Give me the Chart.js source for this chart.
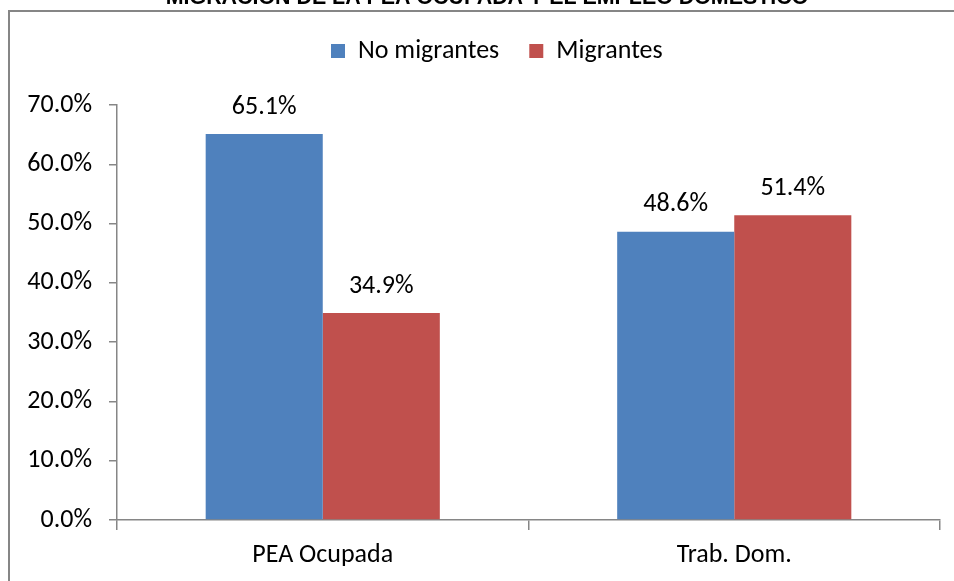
<!DOCTYPE html>
<html><head><meta charset="utf-8">
<script src="https://cdn.jsdelivr.net/npm/chart.js@4"></script>
<style>
html,body{margin:0;padding:0;background:#fff;overflow:hidden;width:954px;height:581px;}
#frame{position:absolute;left:8px;top:10px;width:1000px;height:1000px;border-left:2px solid #868686;border-top:2px solid #868686;}
canvas{position:absolute;left:0;top:0;}
</style></head><body>
<div id="frame"></div>
<canvas id="c" width="954" height="581"></canvas>
<script>
const chartTitle = 'MIGRACIÓN DE LA PEA OCUPADA Y EL EMPLEO DOMÉSTICO';
const categories = ['PEA Ocupada', 'Trab. Dom.'];
const seriesNames = ['No migrantes', 'Migrantes'];
const noMigrantes = [65.1, 48.6];
const migrantes = [34.9, 51.4];
const yMin = 0, yMax = 70, yStep = 10;

const FONT = 'Carlito, Calibri, Lato, sans-serif';
const FS = 26;
const AXIS = '#868686';
const TOP_PAD = 8;

const layoutPlugin = {
  id: 'layoutTweaks',
  beforeLayout(chart) {
    const lg = chart.legend;
    if (lg && !lg._patched) {
      const orig = lg.fit;
      lg.fit = function () { orig.call(this); this.height = 105 - TOP_PAD; };
      lg._patched = true;
    }
  },
  afterLayout(chart) {
    const lg = chart.legend;
    if (!lg || !lg.lineWidths) return;
    const p = lg.options.labels.padding;
    const x0 = ((lg.left + p) + (lg.right - lg.lineWidths[0])) / 2;
    const dx = 331 - x0;
    lg.left += dx; lg.right += dx;
  },
  afterDraw(chart) {
    const ctx = chart.ctx;
    ctx.save();
    ctx.font = 'bold 21.4px "Liberation Sans", Arial, sans-serif';
    ctx.fillStyle = '#000';
    ctx.textAlign = 'center';
    ctx.textBaseline = 'alphabetic';
    ctx.fillText(chartTitle, 487, 4);
    ctx.restore();
  },
  afterDatasetsDraw(chart) {
    const ctx = chart.ctx;
    ctx.save();
    ctx.font = FS + 'px ' + FONT;
    ctx.fillStyle = '#000';
    ctx.textAlign = 'center';
    ctx.textBaseline = 'middle';
    chart.data.datasets.forEach((ds, i) => {
      chart.getDatasetMeta(i).data.forEach((el, j) => {
        ctx.fillText(ds.data[j].toFixed(1) + '%', el.x, el.y - 27);
      });
    });
    ctx.restore();
  }
};

new Chart(document.getElementById('c'), {
  type: 'bar',
  data: {
    labels: categories,
    datasets: [
      { label: seriesNames[0], data: noMigrantes, backgroundColor: '#4F81BD', borderWidth: 0 },
      { label: seriesNames[1], data: migrantes, backgroundColor: '#C0504D', borderWidth: 0 }
    ]
  },
  options: {
    responsive: false,
    animation: false,
    events: [],
    layout: { padding: { left: 0, right: 14, top: TOP_PAD, bottom: 0 } },
    categoryPercentage: 0.569,
    barPercentage: 1.0,
    plugins: {
      title: { display: false },
      tooltip: { enabled: false },
      legend: {
        position: 'top',
        labels: {
          boxWidth: 14, boxHeight: 14, padding: 30,
          color: '#000',
          font: { family: FONT, size: FS }
        }
      }
    },
    scales: {
      x: {
        offset: true,
        grid: { display: true, drawOnChartArea: false, offset: true, tickLength: 10, color: AXIS, lineWidth: 1.5 },
        border: { display: true, color: AXIS, width: 1.5 },
        ticks: { color: '#000', font: { family: FONT, size: FS }, padding: 10 },
        afterFit(s) { s.height = 61; }
      },
      y: {
        min: yMin, max: yMax,
        grid: { display: true, drawOnChartArea: false, tickLength: 8, color: AXIS, lineWidth: 1.5 },
        border: { display: true, color: AXIS, width: 1.5 },
        ticks: {
          stepSize: yStep, color: '#000', padding: 17,
          font: { family: FONT, size: FS },
          callback: v => v.toFixed(1) + '%'
        },
        afterFit(s) { s.width = 117; }
      }
    }
  },
  plugins: [layoutPlugin]
});
</script>
</body></html>
